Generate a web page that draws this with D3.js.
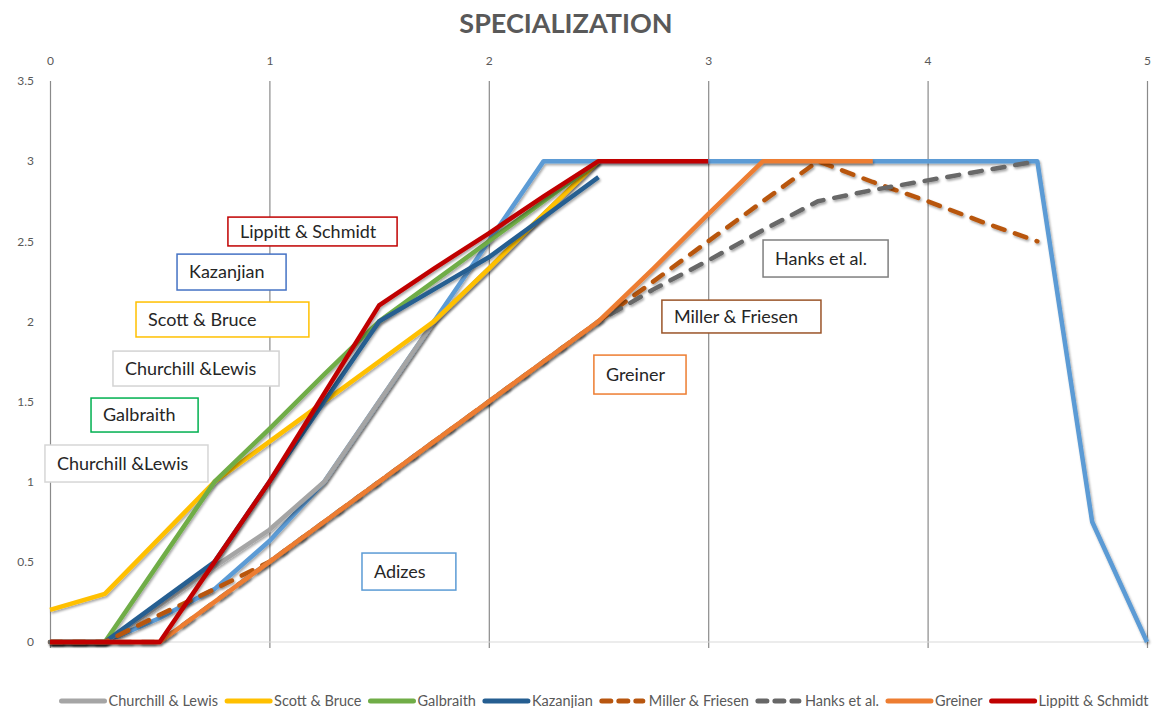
<!DOCTYPE html>
<html><head><meta charset="utf-8">
<script src="https://cdn.jsdelivr.net/npm/d3@7"></script>
<style>
body{margin:0;background:#fff}
svg{display:block}
text{font-family:Lato,"Open Sans",sans-serif}
</style>
</head><body>
<svg id="c" width="1168" height="708"></svg>
<script>
// ---------- data ----------
const xValues   = [0,0.25,0.5,0.75,1,1.25,1.5,1.75,2,2.25,2.5,2.75,3,3.25,3.5,3.75,4,4.25,4.5,4.75,5];
const adizes    = [0,0,0.15,0.33,0.63,1.0,1.5,2.0,2.5,3,3,3,3,3,3,3,3,3,3,0.75,0];
const churchill = [0,0,0.23,0.47,0.7,1.0,1.5,2.0,2.33,2.67,3];
const scott     = [0.2,0.3,0.65,1.0,1.25,1.5,1.75,2.0,2.33,2.67,3];
const galbraith = [0,0,0.5,1.0,1.33,1.67,2.0,2.25,2.5,2.75,3];
const kazanjian = [0,0,0.25,0.5,1.0,1.5,2.0,2.2,2.4,2.65,2.9];
const miller    = [0,0,0.17,0.33,0.5,0.75,1.0,1.25,1.5,1.75,2.0,2.25,2.5,2.75,3.0,2.87,2.75,2.62,2.5];
const hanks     = [0,0,0,0.25,0.5,0.75,1.0,1.25,1.5,1.75,2.0,2.2,2.38,2.57,2.75,2.82,2.88,2.94,3.0];
const greiner   = [0,0,0,0.25,0.5,0.75,1.0,1.25,1.5,1.75,2.0,2.33,2.67,3,3,3];
const lippitt   = [0,0,0,0.5,1.0,1.55,2.1,2.33,2.55,2.78,3,3,3];

const seriesNames  = ["Adizes","Churchill & Lewis","Scott & Bruce","Galbraith","Kazanjian","Miller & Friesen","Hanks et al.","Greiner","Lippitt & Schmidt"];
const seriesValues = [adizes,churchill,scott,galbraith,kazanjian,miller,hanks,greiner,lippitt];
const legendNames  = ["Churchill & Lewis","Scott & Bruce","Galbraith","Kazanjian","Miller & Friesen","Hanks et al.","Greiner","Lippitt & Schmidt"];
const xTicks = [0,1,2,3,4,5];
const yTicks = [0,0.5,1,1.5,2,2.5,3,3.5];
const chartTitle = "SPECIALIZATION";

// annotation labels (text, box in data units: x0,x1,yTop,yBottom)
const noteTexts = ["Lippitt & Schmidt","Kazanjian","Scott & Bruce","Churchill &Lewis","Galbraith","Churchill &Lewis","Adizes","Greiner","Miller & Friesen","Hanks et al."];
const noteX0 = [0.811,0.579,0.392,0.287,0.187,-0.023,1.422,2.479,2.789,3.250];
const noteX1 = [1.582,1.076,1.180,1.044,0.675,0.720,1.850,2.899,3.514,3.820];
const noteY0 = [2.651,2.420,2.121,1.815,1.522,1.229,0.555,1.790,2.133,2.508];
const noteY1 = [2.471,2.196,1.903,1.597,1.310,0.998,0.324,1.547,1.928,2.277];

// ---------- styles ----------
const styles = {
  "Adizes":            {color:"#5B9BD5", dash:null},
  "Churchill & Lewis": {color:"#A5A5A5", dash:null},
  "Scott & Bruce":     {color:"#FFC000", dash:null},
  "Galbraith":         {color:"#70AD47", dash:null},
  "Kazanjian":         {color:"#255E91", dash:null},
  "Miller & Friesen":  {color:"#B8560F", dash:"12,11"},
  "Hanks et al.":      {color:"#676767", dash:"12,11"},
  "Greiner":           {color:"#ED7D31", dash:null},
  "Lippitt & Schmidt": {color:"#C00000", dash:null}
};
const noteColors = ["#C00000","#4472C4","#FFC000","#D3D3D3","#00B050","#D6D6D6","#5B9BD5","#ED7D31","#9A5428","#7F7F7F"];

const svg = d3.select("#c");
const W = 1168, H = 708;
svg.append("rect").attr("width",W).attr("height",H).attr("fill","#fff");

const defs = svg.append("defs");
const f = defs.append("filter").attr("id","sh").attr("x","-5%").attr("y","-5%").attr("width","110%").attr("height","110%");
f.append("feDropShadow").attr("dx",1.2).attr("dy",1.8).attr("stdDeviation",1.3)
  .attr("flood-color","#000").attr("flood-opacity",0.35);

const x = d3.scaleLinear().domain([0,5]).range([50,1147]);
const y = d3.scaleLinear().domain([0,3.5]).range([642,81]);

// title
svg.append("text").attr("x",566).attr("y",33).attr("text-anchor","middle")
  .attr("font-size",27).attr("font-weight","bold").attr("fill","#595959").text(chartTitle);

// vertical gridlines
const grid = svg.append("g").attr("transform",`translate(0,${y(0)+6})`)
  .call(d3.axisBottom(x).tickValues(xTicks).tickSize(-(y(0)+6-y(3.5))).tickFormat(""));
grid.select(".domain").remove();
grid.selectAll("line").attr("stroke","#8a8a8a").attr("stroke-width",1.2);

// baseline
svg.append("line").attr("x1",x(0)).attr("x2",x(5)).attr("y1",y(0)).attr("y2",y(0))
  .attr("stroke","#d9d9d9").attr("stroke-width",1.2);

// top x labels
const xa = svg.append("g").attr("transform","translate(0,65)")
  .call(d3.axisTop(x).tickValues(xTicks).tickSize(0).tickPadding(0).tickFormat(d3.format("d")));
xa.select(".domain").remove();
xa.selectAll("text").attr("font-family","Lato").attr("font-size",12).attr("fill","#595959").attr("dy",0);

// y labels
const ya = svg.append("g").attr("transform","translate(34,0)")
  .call(d3.axisLeft(y).tickValues(yTicks).tickSize(0).tickPadding(0).tickFormat(d3.format("~g")));
ya.select(".domain").remove();
ya.selectAll("text").attr("font-family","Lato").attr("font-size",12).attr("fill","#595959");

// annotation boxes
const notes = svg.append("g");
noteTexts.forEach((t,i)=>{
  const g = notes.append("g");
  g.append("rect").attr("x",x(noteX0[i])).attr("y",y(noteY0[i]))
    .attr("width",x(noteX1[i])-x(noteX0[i])).attr("height",y(noteY1[i])-y(noteY0[i]))
    .attr("fill","#fff").attr("stroke",noteColors[i]).attr("stroke-width",1.5);
  g.append("text").attr("x",x(noteX0[i])+12).attr("y",(y(noteY0[i])+y(noteY1[i]))/2)
    .attr("dy","0.35em").attr("font-size",18).attr("fill","#262626").text(t);
});

// lines
const lineGen = d3.line().x(d=>x(d[0])).y(d=>y(d[1]));
const lines = svg.append("g");
seriesNames.forEach((name,i)=>{
  const pts = seriesValues[i].map((v,j)=>[xValues[j],v]);
  const st = styles[name];
  lines.append("path").datum(pts).attr("d",lineGen)
    .attr("fill","none").attr("stroke",st.color).attr("stroke-width",4.5)
    .attr("stroke-linejoin","round").attr("stroke-linecap", st.dash ? "round" : "butt")
    .attr("stroke-dasharray",st.dash).attr("filter","url(#sh)");
});

// legend
const leg = svg.append("g");
let cx = 0;
legendNames.forEach(name=>{
  const g = leg.append("g").attr("transform",`translate(${cx},0)`);
  const st = styles[name];
  g.append("line").attr("x1",2).attr("x2",st.dash?43:45).attr("y1",0).attr("y2",0)
    .attr("stroke",st.color).attr("stroke-width",5).attr("stroke-linecap","round")
    .attr("stroke-dasharray", st.dash ? "9,8" : null);
  const t = g.append("text").attr("x",49).attr("y",0).attr("dy","0.35em")
    .attr("font-size",14.5).attr("fill","#595959").text(name);
  cx += 49 + t.node().getComputedTextLength() + 7;
});
const totalW = cx - 7;
leg.attr("transform",`translate(${604 - totalW/2},701)`);
</script>
</body></html>
